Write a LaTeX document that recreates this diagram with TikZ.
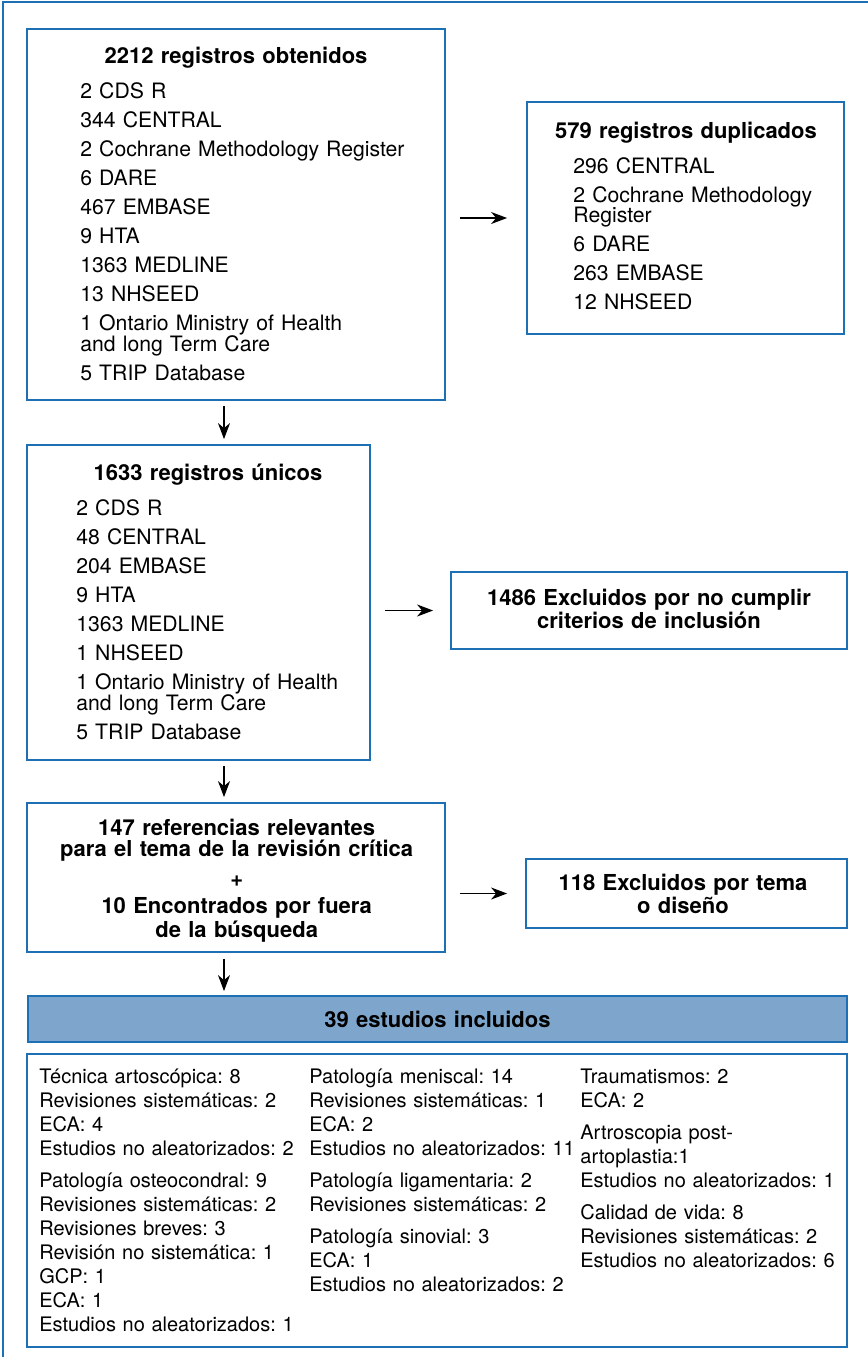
\documentclass[tikz,border=0pt]{standalone}
\usepackage{fontspec}
\setmainfont{TeX Gyre Heros}
\usetikzlibrary{calc,positioning,fit,arrows.meta}
\definecolor{azulmarco}{RGB}{30,112,180}
\definecolor{azulrelleno}{RGB}{126,166,205}
\newcommand\salto{\\[4.1pt]}
\newcommand\saltob{\\[4pt]}
\frenchspacing

\begin{document}
\begin{tikzpicture}[x=0.5pt,y=-0.5pt,inner sep=0pt,
  caja/.style={draw=azulmarco,line width=0.9pt,rectangle},
  titulo/.style={font=\fontsize{11}{10.4}\selectfont\bfseries,text width=200pt,align=center,anchor=base},
  lista/.style={font=\fontsize{10.6}{10.4}\selectfont,text width=190pt,align=left,anchor=base west},
  listab/.style={font=\fontsize{10}{12}\selectfont,text width=140pt,align=left,anchor=base west},
  flecha/.style={-{Stealth[length=8pt,width=6pt,inset=2.5pt]},line width=0.75pt}]
\useasboundingbox (0,0) rectangle (868,1357);
\draw[azulmarco,line width=1pt] (868,2) -- (3,2) -- (3,1357);
\coordinate (eje) at (224,0);

% cajas
\node[caja,fit={(27,29) (445,400)}] (obt) {};
\node[caja,fit={(527,102) (844,334)}] (dup) {};
\node[caja,fit={(27,445) (370,760)}] (uni) {};
\node[caja,fit={(451,572) (847,649)}] (exc) {};
\node[caja,fit={(27,803) (445,952)}] (rel) {};
\node[caja,fit={(526,859) (847,928)}] (tem) {};
\node[caja,fill=azulrelleno,fit={(28,996) (847,1042)}] (inc) {};
\node[caja,fit={(27,1054) (847,1347)}] (est) {};

% textos
\node[titulo] (tobt) at (236,63) {2212 registros obtenidos};
\node[lista] (lobt) at (80,98.7) {2 CDS R\salto 344 CENTRAL\salto 2 Cochrane Methodology Register\salto
  6 DARE\salto 467 EMBASE\salto 9 HTA\salto 1363 MEDLINE\salto 13 NHSEED\salto
  1 Ontario Ministry of Health\\and long Term Care\salto 5 TRIP Database};
\node[titulo] (tdup) at (686,138) {579 registros duplicados};
\node[lista] (ldup) at (573,173) {296 CENTRAL\salto 2 Cochrane Methodology\\Register\salto
  6 DARE\salto 263 EMBASE\salto 12 NHSEED};
\node[titulo] (tuni) at (208,480) {1633 registros únicos};
\node[lista] (luni) at (76,515.7) {2 CDS R\salto 48 CENTRAL\salto 204 EMBASE\salto 9 HTA\salto
  1363 MEDLINE\salto 1 NHSEED\salto 1 Ontario Ministry of Health\\and long Term Care\salto
  5 TRIP Database};
\node[titulo] (texc) at (649,605.3) {1486 Excluidos por no cumplir\\criterios de inclusión};
\node[titulo] (trel) at (236.7,835.3) {147 referencias relevantes\\para el tema de la revisión crítica\\[5pt]
  +\\[3pt]10 Encontrados por fuera\\de la búsqueda};
\node[titulo] (ttem) at (683,890.7) {118 Excluidos por tema\\o diseño};
\node[titulo,anchor=center] (tinc) at (inc.center) {39 estudios incluidos};
\node[listab] (lest1) at (39,1083.2) {Técnica artoscópica: 8\\Revisiones sistemáticas: 2\\ECA: 4\\
  Estudios no aleatorizados: 2\saltob Patología osteocondral: 9\\Revisiones sistemáticas: 2\\
  Revisiones breves: 3\\Revisión no sistemática: 1\\GCP: 1\\ECA: 1\\Estudios no aleatorizados: 1};
\node[listab] (lest2) at (309,1083.2) {Patología meniscal: 14\\Revisiones sistemáticas: 1\\ECA: 2\\
  Estudios no aleatorizados: 11\saltob Patología ligamentaria: 2\\Revisiones sistemáticas: 2\saltob
  Patología sinovial: 3\\ECA: 1\\Estudios no aleatorizados: 2};
\node[listab] (lest3) at (580,1083.2) {Traumatismos: 2\\ECA: 2\saltob Artroscopia post-\\artoplastia:1\\
  Estudios no aleatorizados: 1\saltob Calidad de vida: 8\\Revisiones sistemáticas: 2\\
  Estudios no aleatorizados: 6};

% flechas
\draw[flecha,shorten <=7pt,shorten >=9.5pt] (obt.east |- dup.west) -- (dup.west);
\draw[flecha,shorten <=2.5pt,shorten >=2.5pt] (obt.south -| eje) -- (uni.north -| eje);
\draw[flecha,shorten <=7pt,shorten >=8.5pt] (uni.east |- exc.west) -- (exc.west);
\draw[flecha,shorten <=2.5pt,shorten >=2.5pt] (uni.south -| eje) -- (rel.north -| eje);
\draw[flecha,shorten <=7pt,shorten >=9pt] (rel.east |- tem.west) -- (tem.west);
\draw[flecha,shorten <=3pt,shorten >=2pt] (rel.south -| eje) -- (inc.north -| eje);
\end{tikzpicture}
\end{document}
